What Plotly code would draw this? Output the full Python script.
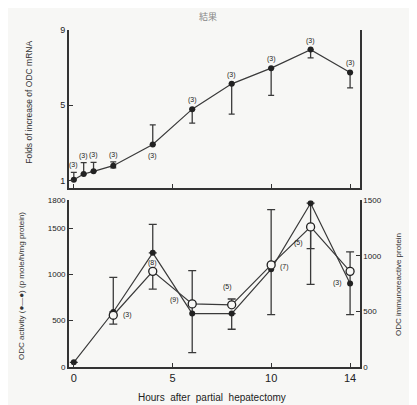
import plotly.graph_objects as go

# ---- data ----
hours_top = [0, 0.5, 1, 2, 4, 6, 8, 10, 12, 14]
mrna_folds = [1.05, 1.36, 1.5, 1.8, 2.92, 4.79, 6.13, 6.96, 7.94, 6.73]
mrna_err_plus = [0.4, 0.6, 0.47, 0.2, 1.04, 0, 0, 0, 0, 0]
mrna_err_minus = [0, 0, 0, 0.12, 0, 0.74, 1.6, 1.44, 0.44, 0.81]
mrna_n = ["(3)"] * 10

hours_act = [0, 2, 4, 6, 8, 10, 12, 14]
odc_activity = [50, 593, 1232, 576, 576, 1056, 1768, 902]
act_err_plus = [0, 375, 308, 463, 0, 642, 0, 340]
act_err_minus = [0, 0, 0, 421, 169, 491, 491, 337]

hours_imm = [2, 4, 6, 8, 10, 12, 14]
odc_protein = [465, 860, 567, 559, 918, 1260, 860]
imm_err_plus = [0, 0, 0, 52, 0, 0, 0]
imm_err_minus = [80, 160, 0, 0, 0, 517, 0]
bottom_n = ["(3)", "(8)", "(9)", "(5)", "(7)", "(5)", "(3)"]

x_ticks = [0, 5, 10, 14]
top_ticks = [1, 5, 9]
left_ticks = [0, 500, 1000, 1500, 1800]
right_ticks = [0, 500, 1000, 1500]

INK = "#3a3a3a"
FONT = "Liberation Sans"
BG = "#f7f7f5"

fig = go.Figure()

fig.add_trace(go.Scatter(
    x=hours_top, y=mrna_folds, mode="lines+markers",
    line=dict(color=INK, width=1.2),
    marker=dict(color="#222", size=6),
    error_y=dict(type="data", symmetric=False, array=mrna_err_plus,
                 arrayminus=mrna_err_minus, color=INK, thickness=1.3, width=3),
    xaxis="x", yaxis="y", showlegend=False))

fig.add_trace(go.Scatter(
    x=hours_act, y=odc_activity, mode="lines+markers",
    line=dict(color=INK, width=1.2),
    marker=dict(color="#222", size=6),
    error_y=dict(type="data", symmetric=False, array=act_err_plus,
                 arrayminus=act_err_minus, color=INK, thickness=1.3, width=4),
    xaxis="x2", yaxis="y2", showlegend=False))

fig.add_trace(go.Scatter(
    x=hours_imm, y=odc_protein, mode="lines+markers",
    line=dict(color=INK, width=1.2),
    marker=dict(color=BG, size=8, line=dict(color="#222", width=1.3)),
    error_y=dict(type="data", symmetric=False, array=imm_err_plus,
                 arrayminus=imm_err_minus, color=INK, thickness=1.3, width=4),
    xaxis="x2", yaxis="y3", showlegend=False))

annotations = []
# top panel n-labels
for i, (x, y, t) in enumerate(zip(hours_top, mrna_folds, mrna_n)):
    if i < 4:
        ya, ys = y + mrna_err_plus[i], 7
    elif i == 4:
        ya, ys = y, -11
    else:
        ya, ys = y, 9
    annotations.append(dict(x=x, y=ya, xref="x", yref="y", text=t, showarrow=False,
                            yshift=ys, font=dict(size=7, color="#222", family=FONT)))

# bottom panel n-labels
shifts = [(14, 0, "imm"), (0, -10, "act"), (-18, 4, "imm"), (-4, 12, "immtop"),
          (13, -2, "imm"), (-12, -16, "imm"), (-13, 0, "act")]
for i, (x, t) in enumerate(zip(hours_imm, bottom_n)):
    xs, ys, kind = shifts[i]
    if kind == "act":
        yv, yr = odc_activity[hours_act.index(x)], "y2"
    elif kind == "immtop":
        yv, yr = odc_protein[i] + imm_err_plus[i], "y3"
    else:
        yv, yr = odc_protein[i], "y3"
    annotations.append(dict(x=x, y=yv, xref="x2", yref=yr, text=t, showarrow=False,
                            xshift=xs, yshift=ys, font=dict(size=7, color="#222", family=FONT)))

# axis titles
def title(x, y, text, size, angle=-90, color="#333"):
    return dict(x=x, y=y, xref="paper", yref="paper", text=text, textangle=angle,
                showarrow=False, xanchor="center", yanchor="middle",
                font=dict(size=size, color=color, family=FONT))

annotations += [
    title(0.05, 0.775, "Folds of increase of ODC mRNA", 8.5),
    title(0.032, 0.31, "ODC activity (●—●) (p mole/h/mg protein)", 8),
    title(0.937, 0.313, "ODC immunoreactive protein", 8),
    title(0.972, 0.285, "(○—○)  (pg/mg protein)", 7.5),
    title(0.49, 0.026, "Hours  after  partial  hepatectomy", 10, angle=0, color="#222"),
    dict(x=0.48, y=1.012, xref="paper", yref="paper", text="結果", showarrow=False,
         xanchor="center", yanchor="top",
         font=dict(size=9, color="#888", family="Noto Sans CJK JP")),
]

axis_common = dict(showgrid=False, zeroline=False, showline=True, linecolor="#333",
                   linewidth=1.5, ticks="inside", ticklen=4, tickcolor="#333", tickwidth=1.2,
                   tickfont=dict(size=9, color="#222", family=FONT))

fig.update_layout(
    width=417, height=405,
    margin=dict(l=0, r=0, t=0, b=0),
    paper_bgcolor=BG, plot_bgcolor=BG,
    annotations=annotations,
    xaxis=dict(axis_common, domain=[0.146, 0.844], range=[-0.25, 14.5], anchor="y",
               tickvals=x_ticks, showticklabels=False),
    yaxis=dict(axis_common, domain=[0.558, 0.958], range=[0.64, 9], anchor="x",
               tickvals=top_ticks, mirror=True),
    xaxis2=dict(axis_common, domain=[0.146, 0.844], range=[-0.25, 14.5], anchor="y2",
                tickvals=x_ticks, tickfont=dict(size=11, color="#222", family=FONT)),
    yaxis2=dict(axis_common, domain=[0.104, 0.526], range=[0, 1800], anchor="x2",
                tickvals=left_ticks, tickfont=dict(size=8, color="#222", family=FONT)),
    yaxis3=dict(axis_common, range=[0, 1500], overlaying="y2", side="right", anchor="x2",
                tickvals=right_ticks, tickfont=dict(size=8, color="#222", family=FONT)),
)

fig.write_html("out.html")
